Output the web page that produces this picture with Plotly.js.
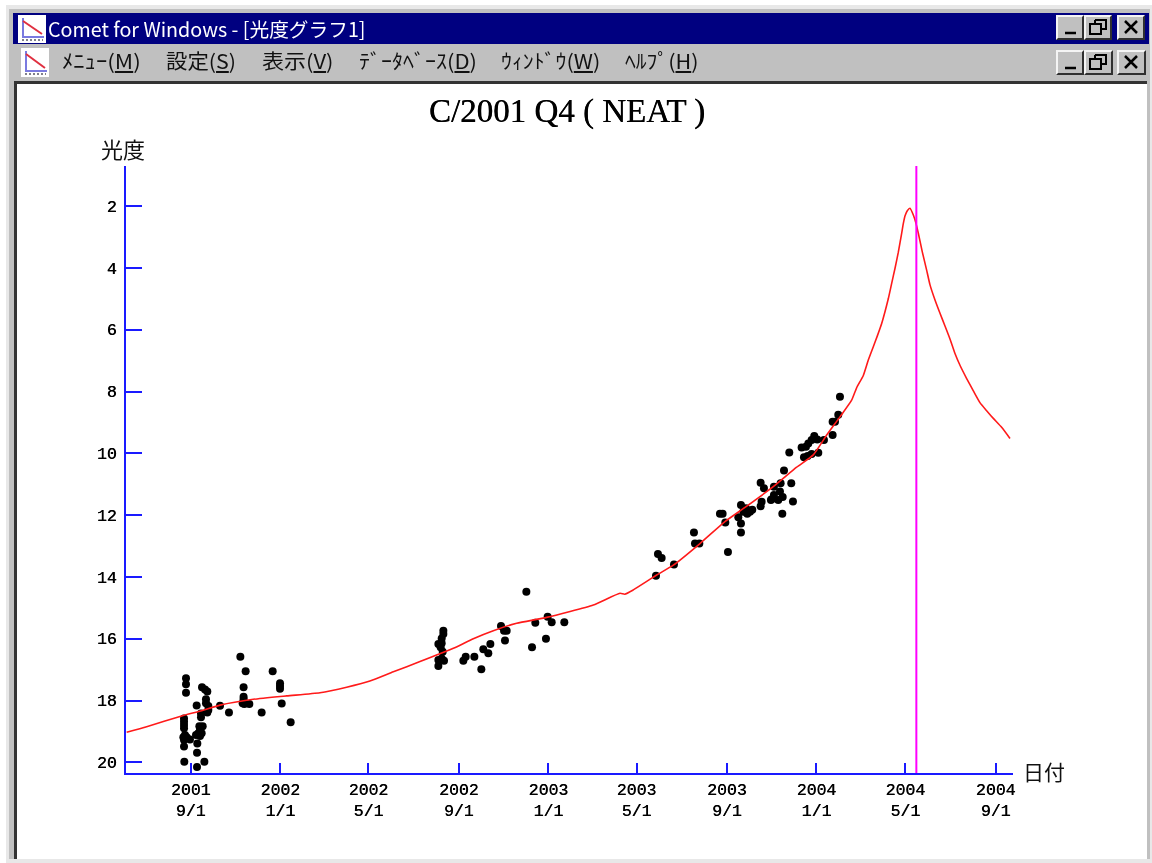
<!DOCTYPE html>
<html><head><meta charset="utf-8">
<script src="https://cdn.plot.ly/plotly-3.0.1.min.js"></script>
<style>
html,body{margin:0;padding:0;background:#fff;width:1152px;height:863px;overflow:hidden}
body{filter:blur(0.45px)}
.abs{position:absolute}
.btn{position:absolute;box-sizing:border-box;background:#c0c0c0;border-style:solid;border-width:2px;border-color:#f4f4f4 #303030 #303030 #f4f4f4}
.btn svg{position:absolute;left:0;top:0}
.menu{position:absolute;top:47px;height:28px;font:20px/28px "Noto Sans CJK JP";color:#111;white-space:nowrap;transform-origin:left center}
.menu u{text-underline-offset:2px}
#chart{position:absolute;left:0;top:0;width:1152px;height:863px}
</style></head><body>
<div class="abs" style="left:6px;top:5px;width:1146px;height:858px;background:#e8e8e8"></div>
<div class="abs" style="left:9px;top:9px;width:1141px;height:850px;background:#c0c0c0"></div>
<div class="abs" style="left:13px;top:13px;width:1136px;height:31px;background:#000080"></div>
<svg class="abs" style="left:18px;top:15px" width="28" height="28"><rect width="28" height="28" fill="#fff"/><path d="M5 3V22H26" fill="none" stroke="#7a7ae0" stroke-width="2"/><path d="M5 6L24 19" stroke="#e03040" stroke-width="2"/><path d="M4 25H25" stroke="#556" stroke-width="1.5" stroke-dasharray="2 2"/></svg>
<div class="abs" id="wintitle" style="left:48px;top:13px;height:31px;font:19.7px/31px 'Noto Sans CJK JP';color:#fff;white-space:nowrap">Comet for Windows - [光度グラフ1]</div>
<div class="btn" style="left:1056px;top:15px;width:28px;height:25px"><svg width="24" height="21"><path d="M7 16H18" stroke="#000" stroke-width="2.5"/></svg></div>
<div class="btn" style="left:1084px;top:15px;width:28px;height:25px"><svg width="24" height="21"><path d="M9 3H20V12H16M9 3V7M4 7H15V17H4Z" fill="none" stroke="#000" stroke-width="2"/></svg></div>
<div class="btn" style="left:1117px;top:15px;width:28px;height:25px"><svg width="24" height="21"><path d="M6 4L18 16M18 4L6 16" stroke="#000" stroke-width="2.5"/></svg></div>
<svg class="abs" style="left:21px;top:48px" width="28" height="29"><rect width="28" height="29" fill="#fff"/><path d="M5 3V23H26" fill="none" stroke="#7a7ae0" stroke-width="2"/><path d="M5 6L24 20" stroke="#e03040" stroke-width="2"/><path d="M4 26H25" stroke="#556" stroke-width="1.5" stroke-dasharray="2 2"/></svg>
<div class="menu" style="left:62px;transform:scaleX(1.13)">ﾒﾆｭｰ(<u>M</u>)</div>
<div class="menu" style="left:166px;transform:scaleX(1.07)">設定(<u>S</u>)</div>
<div class="menu" style="left:262px;transform:scaleX(1.1)">表示(<u>V</u>)</div>
<div class="menu" style="left:359px;transform:scaleX(1.1)">ﾃﾞｰﾀﾍﾞｰｽ(<u>D</u>)</div>
<div class="menu" style="left:501px;transform:scaleX(1.09)">ｳｨﾝﾄﾞｳ(<u>W</u>)</div>
<div class="menu" style="left:625px;transform:scaleX(1.08)">ﾍﾙﾌﾟ(<u>H</u>)</div>
<div class="btn" style="left:1056px;top:50px;width:28px;height:25px"><svg width="24" height="21"><path d="M7 16H18" stroke="#000" stroke-width="2.5"/></svg></div>
<div class="btn" style="left:1084px;top:50px;width:29px;height:25px"><svg width="25" height="21"><path d="M9 3H20V12H16M9 3V7M4 7H15V17H4Z" fill="none" stroke="#000" stroke-width="2"/></svg></div>
<div class="btn" style="left:1117px;top:50px;width:29px;height:25px"><svg width="25" height="21"><path d="M6 4L18 16M18 4L6 16" stroke="#000" stroke-width="2.5"/></svg></div>
<div class="abs" style="left:14px;top:81px;width:1133px;height:778px;box-sizing:border-box;background:#fff;border-left:3px solid #333;border-top:3px solid #333"></div>
<div id="chart"></div>
<script>
const chartTitle = "C/2001 Q4 ( NEAT )";
const yLabel = "光度";
const xLabel = "日付";
const tickDates = ["2001-09-01","2002-01-01","2002-05-01","2002-09-01","2003-01-01","2003-05-01","2003-09-01","2004-01-01","2004-05-01","2004-09-01"];
const tickLabels = ["2001<br>9/1","2002<br>1/1","2002<br>5/1","2002<br>9/1","2003<br>1/1","2003<br>5/1","2003<br>9/1","2004<br>1/1","2004<br>5/1","2004<br>9/1"];
const magTicks = [2,4,6,8,10,12,14,16,18,20];
// Days after 2001-09-01
const obsDays = [-6.4,-6.4,-6.4,-9.1,-9.1,-9.1,-9.1,-7.8,-10,-5.5,-9.1,-1,-9.1,-8.7,
 8.1,14,14,16.3,11.8,12.7,10.4,14.9,7.2,12.7,9,8.6,8.6,18.6,
 15.4,19.5,22.6,20.8,20.8,24,22.6,24,
 39.9,52.1,67.6,74.8,72,72,72,70.7,79.8,73,96.6,111.6,121.6,121.6,121.6,123.9,136.1,
 344,344,341.7,337.2,341.7,340.3,343.1,337.2,341.7,344.9,337.2,
 371.2,374.4,386.2,395.7,398.4,405.2,408,427.9,422.5,426.6,430.2,464.7,469.2,486,491.5,483.7,508.7,457,
 633.5,658,636.2,641.2,686.6,692.5,685.2,731.5,
 720.6,724.2,727.9,749.2,745.6,749.2,749.2,756,752.4,757.8,761.5,764.6,
 776,780.5,794.1,803.2,817.7,807.8,815,
 777.3,776,791,794.1,802.3,806,800,790,820,805.5,
 835,840,845.4,854.5,831.8,837.7,840.9,845.4,849,853.1,862.2,874,874,877.2,881.7,884];
const obsMag = [17.28,17.47,17.75,18.58,18.69,18.79,18.9,19.12,19.19,19.19,19.28,19.26,19.49,19.98,
 18.16,18.42,18.54,18.83,18.83,18.95,19.06,19.06,19.12,19.15,19.39,19.69,20.15,19.98,
 17.57,17.64,17.71,17.96,18.09,18.18,18.39,18.31,
 18.17,18.39,16.58,17.05,17.57,17.88,17.96,18.09,18.11,18.11,18.39,17.05,17.44,17.53,17.62,18.1,18.7,
 15.74,15.85,15.99,16.17,16.15,16.28,16.42,16.69,16.64,16.71,16.88,
 16.71,16.58,16.58,16.99,16.34,16.47,16.17,16.06,15.59,15.74,15.74,16.28,15.48,15.29,15.47,16,15.47,14.48,
 13.96,13.6,13.26,13.39,12.92,12.92,12.56,13.19,
 11.96,11.96,12.24,11.67,12.07,12.27,12.56,11.78,11.89,11.96,11.89,11.83,
 10.95,11.13,11.08,10.97,10.97,10.56,9.97,
 11.57,11.71,11.49,11.35,11.24,11.41,11.51,11.51,11.56,11.96,
 10.13,10.09,10.02,9.98,9.81,9.79,9.68,9.57,9.44,9.55,9.57,9.41,8.98,8.98,8.75,8.17];
const curveDays = [-87.2,-60,-12.3,14.9,39.9,85.3,130.7,176,212.3,244,275.9,312.2,357.6,384.8,412,443.8,484.6,548.2,584.5,591,602.6,634.4,657.1,693.4,727.4,754.7,793.2,825,847.7,865.9,884,899.9,906.7,915.8,922.6,929.4,934.9,940.8,945.3,949.8,954.4,958.9,963.4,968,970.3,972.5,975.7,979.3,983.9,987.5,990.7,996.1,1002,1006.6,1013.4,1020.2,1027,1033.8,1040.6,1047.4,1056.5,1065.6,1074.6,1083.7,1092.8,1104.1,1115.5];
const curveMag = [19.03,18.85,18.5,18.33,18.15,17.96,17.85,17.75,17.57,17.37,17.07,16.74,16.31,16,15.74,15.5,15.31,14.91,14.53,14.56,14.42,13.94,13.62,12.92,12.21,11.75,11.08,10.45,10.05,9.41,8.82,8.28,7.88,7.48,6.98,6.55,6.2,5.8,5.42,5.0,4.5,4.02,3.5,2.88,2.56,2.32,2.15,2.07,2.29,2.56,2.88,3.48,4.07,4.55,5.04,5.47,5.88,6.3,6.77,7.15,7.58,7.98,8.36,8.62,8.87,9.16,9.52];
const markerDay = [988,988];
const markerMag = [0.702,20.346];
const xRangeDays = [-88.1,1119.6];

const EPOCH = Date.UTC(2001,8,1);
const toDate = d => new Date(EPOCH + d*864e5).toISOString().slice(0,19);
const BLUE = "#1a1aff";
const data = [
 {type:"scatter",mode:"markers",x:obsDays.map(toDate),y:obsMag,marker:{color:"#000",size:8},name:"観測"},
 {type:"scatter",mode:"lines",x:curveDays.map(toDate),y:curveMag,line:{color:"#ff1a1a",width:1.6,shape:"spline",smoothing:0.5},name:"予報"},
 {type:"scatter",mode:"lines",x:markerDay.map(toDate),y:markerMag,line:{color:"#ff00ff",width:2},name:"現在"}
];
const tickFont = {family:"Liberation Mono",size:16.5,color:"#000",shadow:"0.4px 0 0 #000"};
const layout = {
 width:1152,height:863,autosize:false,showlegend:false,
 paper_bgcolor:"rgba(0,0,0,0)",plot_bgcolor:"rgba(0,0,0,0)",
 margin:{l:126,r:139,t:166,b:90,pad:0},
 font:{family:"Liberation Mono",size:16.5,color:"#000"},
 title:{text:chartTitle,xref:"container",yref:"container",x:567/1152,y:1-110/863,xanchor:"center",yanchor:"middle",font:{family:"Liberation Serif",size:33,color:"#000",shadow:"0.4px 0 0 #000"}},
 xaxis:{type:"date",range:xRangeDays.map(toDate),tickmode:"array",tickvals:tickDates,ticktext:tickLabels,tickfont:tickFont,ticks:"inside",ticklen:10,tickwidth:2,tickcolor:BLUE,showline:true,linecolor:BLUE,linewidth:2,showgrid:false,zeroline:false,tickangle:0},
 yaxis:{range:[20.346,0.702],tickmode:"array",tickvals:magTicks,ticktext:magTicks.map(String),tickfont:tickFont,ticks:"inside",ticklen:16,tickwidth:2,tickcolor:BLUE,showline:true,linecolor:BLUE,linewidth:2,showgrid:false,zeroline:false,ticklabelstandoff:4},
 annotations:[
  {text:yLabel,xref:"paper",yref:"paper",x:0,y:1,xanchor:"center",yanchor:"middle",xshift:-3,yshift:18,showarrow:false,font:{family:"Noto Sans CJK JP",size:22,color:"#111"}},
  {text:xLabel,xref:"paper",yref:"paper",x:1,y:0,xanchor:"left",yanchor:"middle",xshift:8,yshift:2,showarrow:false,font:{family:"Noto Sans CJK JP",size:21,color:"#111"}}
 ]
};
Plotly.newPlot("chart",data,layout,{displayModeBar:false,responsive:false});
</script>
</body></html>
